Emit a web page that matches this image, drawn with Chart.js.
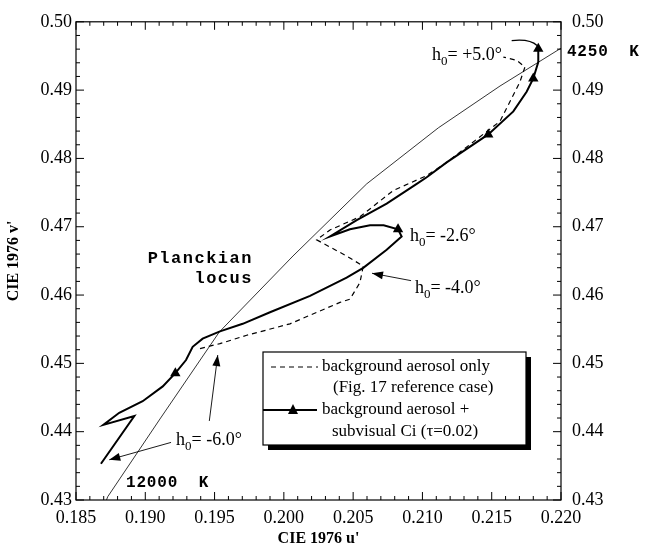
<!DOCTYPE html>
<html>
<head>
<meta charset="utf-8">
<script src="https://cdn.jsdelivr.net/npm/chart.js@4.4.1/dist/chart.umd.min.js"></script>
<style>
  html, body { margin: 0; padding: 0; background: #fff; }
  #wrap { width: 649px; height: 551px; }
</style>
</head>
<body>
<div id="wrap"><canvas id="myChart" width="649" height="551"></canvas></div>
<script>
// Planckian locus (thin line)
var locusU = [0.1872, 0.18729, 0.19106, 0.19534, 0.20066, 0.20598, 0.21115, 0.21560, 0.21993, 0.2205];
var locusV = [0.4300, 0.43048, 0.44186, 0.45459, 0.46572, 0.47628, 0.48448, 0.49060, 0.49605, 0.4966];

// background aerosol only (dashed)
var bgU = [0.19395, 0.19539, 0.19732, 0.20044, 0.20405, 0.20477, 0.20549, 0.20573, 0.20453, 0.20237,
           0.20333, 0.20549, 0.20790, 0.21031, 0.21175, 0.21560, 0.21632, 0.21704, 0.21740, 0.21680, 0.21584];
var bgV = [0.45217, 0.45289, 0.45411, 0.45579, 0.45892, 0.45940, 0.46182, 0.46423, 0.46572, 0.46808,
           0.46953, 0.47146, 0.47531, 0.47748, 0.47942, 0.48544, 0.48833, 0.49122, 0.49339, 0.49436, 0.49484];

// background aerosol + subvisual Ci (solid, triangles)
var ciU = [0.18680, 0.18921, 0.18697, 0.18812, 0.18981, 0.19126, 0.19217, 0.19294, 0.19342, 0.19414,
           0.19539, 0.19703, 0.19900, 0.20189, 0.20453, 0.20573, 0.20742, 0.20850, 0.20824, 0.20720,
           0.20622, 0.20477, 0.20333, 0.20526, 0.20742, 0.20959, 0.21031, 0.21175, 0.21475, 0.21656,
           0.21752, 0.21800, 0.21836, 0.21836];
var ciV = [0.43531, 0.44229, 0.44099, 0.44277, 0.44446, 0.44663, 0.44856, 0.45049, 0.45242, 0.45362,
           0.45469, 0.45579, 0.45748, 0.45989, 0.46254, 0.46399, 0.46663, 0.46857, 0.46963, 0.47021,
           0.47021, 0.46963, 0.46857, 0.47097, 0.47339, 0.47628, 0.47725, 0.47942, 0.48351, 0.48688,
           0.48977, 0.49171, 0.49411, 0.49605];
var ciMarkers = [6, 18, 28, 31, 33];

// ticks
var xMin = 0.185, xMax = 0.220, xStep = 0.001;
var yMin = 0.43, yMax = 0.50, yStep = 0.002;

// text labels [u, v]
var labelPlus5 = [0.21069, 0.49508];
var labelM26 = [0.20910, 0.46862];
var labelM40 = [0.20946, 0.46095];
var labelM60 = [0.19222, 0.43868];
var labelPlanck = [0.19777, 0.46529, 0.46240];
var label12000 = [0.18861, 0.43246];
var label4250 = [0.22043, 0.49552];

// annotation arrows [u0, v0, u1, v1]
var arrowM40 = [0.20918, 0.46211, 0.20636, 0.46319];
var arrowM60a = [0.19186, 0.43843, 0.18740, 0.43589];
var arrowM60b = [0.19462, 0.44157, 0.19523, 0.45122];
var curvePlus5 = [0.21644, 0.49725, 0.21776, 0.49754, 0.21827, 0.49653];

function pts(us, vs) {
  var out = [];
  for (var i = 0; i < us.length; i++) out.push({x: us[i], y: vs[i]});
  return out;
}

var serif = '"Liberation Serif", "Times New Roman", serif';
var mono = '"Liberation Mono", "Courier New", monospace';

function drawArrow(ctx, x0, y0, x1, y1) {
  ctx.beginPath();
  ctx.moveTo(x0, y0);
  ctx.lineTo(x1, y1);
  ctx.stroke();
  var a = Math.atan2(y1 - y0, x1 - x0);
  var L = 11, W = 4;
  ctx.beginPath();
  ctx.moveTo(x1, y1);
  ctx.lineTo(x1 - L * Math.cos(a) + W * Math.sin(a), y1 - L * Math.sin(a) - W * Math.cos(a));
  ctx.lineTo(x1 - L * Math.cos(a) - W * Math.sin(a), y1 - L * Math.sin(a) + W * Math.cos(a));
  ctx.closePath();
  ctx.fill();
}

function drawH(ctx, x, y, rest) {
  ctx.textAlign = 'left';
  ctx.textBaseline = 'middle';
  ctx.font = '18px ' + serif;
  ctx.fillText('h', x, y);
  var w = ctx.measureText('h').width;
  ctx.font = '13px ' + serif;
  ctx.fillText('0', x + w, y + 6);
  var w0 = ctx.measureText('0').width;
  ctx.font = '18px ' + serif;
  ctx.fillText('= ' + rest, x + w + w0, y);
}

var extras = {
  id: 'extras',
  afterDraw: function(chart) {
    var ctx = chart.ctx;
    var xs = chart.scales.x, ys = chart.scales.y;
    var ca = chart.chartArea;
    ctx.save();
    ctx.strokeStyle = '#000';
    ctx.fillStyle = '#000';

    // frame
    ctx.lineWidth = 1.2;
    ctx.strokeRect(ca.left, ca.top, ca.right - ca.left, ca.bottom - ca.top);

    // inward ticks
    ctx.lineWidth = 1;
    xs.ticks.forEach(function(t) {
      var px = xs.getPixelForValue(t.value);
      var len = Math.round(t.value * 1000) % 5 === 0 ? 8 : 4;
      ctx.beginPath();
      ctx.moveTo(px, ca.bottom); ctx.lineTo(px, ca.bottom - len);
      ctx.moveTo(px, ca.top); ctx.lineTo(px, ca.top + len);
      ctx.stroke();
    });
    ys.ticks.forEach(function(t) {
      var py = ys.getPixelForValue(t.value);
      var len = Math.round(t.value * 1000) % 10 === 0 ? 8 : 4;
      ctx.beginPath();
      ctx.moveTo(ca.left, py); ctx.lineTo(ca.left + len, py);
      ctx.moveTo(ca.right, py); ctx.lineTo(ca.right - len, py);
      ctx.stroke();
    });

    function P(u, v) { return [xs.getPixelForValue(u), ys.getPixelForValue(v)]; }

    // arrows
    ctx.lineWidth = 0.9;
    [arrowM40, arrowM60a, arrowM60b].forEach(function(a) {
      var p0 = P(a[0], a[1]), p1 = P(a[2], a[3]);
      drawArrow(ctx, p0[0], p0[1], p1[0], p1[1]);
    });
    var c0 = P(curvePlus5[0], curvePlus5[1]), c1 = P(curvePlus5[2], curvePlus5[3]), c2 = P(curvePlus5[4], curvePlus5[5]);
    ctx.lineWidth = 1.3;
    ctx.beginPath();
    ctx.moveTo(c0[0], c0[1]);
    ctx.quadraticCurveTo(c1[0], c1[1], c2[0], c2[1]);
    ctx.stroke();

    // h0 labels
    var p;
    p = P(labelPlus5[0], labelPlus5[1]); drawH(ctx, p[0], p[1], '+5.0°');
    p = P(labelM26[0], labelM26[1]); drawH(ctx, p[0], p[1], '-2.6°');
    p = P(labelM40[0], labelM40[1]); drawH(ctx, p[0], p[1], '-4.0°');
    p = P(labelM60[0], labelM60[1]); drawH(ctx, p[0], p[1], '-6.0°');

    // mono bold labels
    ctx.font = 'bold 17px ' + mono;
    ctx.letterSpacing = '1.5px';
    ctx.textAlign = 'right';
    ctx.textBaseline = 'middle';
    p = P(labelPlanck[0], labelPlanck[1]); ctx.fillText('Planckian', p[0], p[1]);
    p = P(labelPlanck[0], labelPlanck[2]); ctx.fillText('locus', p[0], p[1]);
    ctx.font = 'bold 16px ' + mono;
    ctx.letterSpacing = '0.8px';
    ctx.textAlign = 'left';
    p = P(label12000[0], label12000[1]); ctx.fillText('12000  K', p[0], p[1]);
    p = P(label4250[0], label4250[1]); ctx.fillText('4250  K', p[0], p[1]);
    ctx.letterSpacing = '0px';

    // legend box with shadow
    var bx = 263, by = 352, bw = 263, bh = 93;
    ctx.fillRect(bx + 5, by + 5, bw, bh);
    ctx.fillStyle = '#fff';
    ctx.fillRect(bx, by, bw, bh);
    ctx.fillStyle = '#000';
    ctx.lineWidth = 1.2;
    ctx.strokeRect(bx, by, bw, bh);

    ctx.lineWidth = 1.2;
    ctx.setLineDash([5, 4]);
    ctx.beginPath(); ctx.moveTo(bx + 8, by + 15); ctx.lineTo(bx + 55, by + 15); ctx.stroke();
    ctx.setLineDash([]);
    ctx.lineWidth = 2;
    ctx.beginPath(); ctx.moveTo(bx, by + 58); ctx.lineTo(bx + 54, by + 58); ctx.stroke();
    ctx.beginPath();
    ctx.moveTo(bx + 30, by + 52); ctx.lineTo(bx + 35, by + 62); ctx.lineTo(bx + 25, by + 62);
    ctx.closePath(); ctx.fill();

    ctx.font = '17px ' + serif;
    ctx.textAlign = 'left';
    ctx.textBaseline = 'middle';
    ctx.fillText('background aerosol only', bx + 59, by + 15);
    ctx.fillText('(Fig. 17 reference case)', bx + 70, by + 36);
    ctx.fillText('background aerosol +', bx + 59, by + 58);
    ctx.fillText('subvisual Ci (\u03c4=0.02)', bx + 69, by + 80);

    ctx.restore();
  }
};

var ctx = document.getElementById('myChart').getContext('2d');

var majorX = function(v) { return Math.round(v * 1000) % 5 === 0 ? v.toFixed(3) : ''; };
var majorY = function(v) { return Math.round(v * 1000) % 10 === 0 ? v.toFixed(2) : ''; };

var myChart = new Chart(ctx, {
  type: 'scatter',
  data: {
    datasets: [{
      label: 'Planckian locus',
      data: pts(locusU, locusV),
      showLine: true,
      borderColor: '#000',
      borderWidth: 0.8,
      pointRadius: 0
    }, {
      label: 'background aerosol only',
      data: pts(bgU, bgV),
      showLine: true,
      borderColor: '#000',
      borderWidth: 1.2,
      borderDash: [5, 4],
      pointRadius: 0
    }, {
      label: 'background aerosol + subvisual Ci',
      data: pts(ciU, ciV),
      showLine: true,
      borderColor: '#000',
      borderWidth: 2,
      pointStyle: 'triangle',
      backgroundColor: '#000',
      pointBorderWidth: 0,
      pointRadius: ciU.map(function(_, i) { return ciMarkers.indexOf(i) >= 0 ? 6 : 0; })
    }]
  },
  options: {
    responsive: false,
    animation: false,
    layout: { padding: { top: 16, left: 0, right: 0, bottom: 0 } },
    plugins: { legend: { display: false }, tooltip: { enabled: false } },
    scales: {
      x: {
        type: 'linear',
        position: 'bottom',
        min: xMin, max: xMax,
        grid: { display: false, drawTicks: false },
        border: { display: false },
        ticks: {
          stepSize: xStep, autoSkip: false, maxRotation: 0, padding: 7,
          color: '#000', font: { family: serif, size: 18 },
          callback: majorX
        },
        title: {
          display: true, text: 'CIE 1976 u\'', color: '#000',
          font: { family: serif, size: 16, weight: 'bold' },
          padding: { top: 0, bottom: 3 }
        },
        afterFit: function(s) { s.height = 51; }
      },
      y: {
        type: 'linear',
        position: 'left',
        min: yMin, max: yMax,
        grid: { display: false, drawTicks: false },
        border: { display: false },
        ticks: {
          stepSize: yStep, autoSkip: false, padding: 4,
          color: '#000', font: { family: serif, size: 18 },
          callback: majorY
        },
        title: {
          display: true, text: 'CIE 1976 v\'', color: '#000',
          font: { family: serif, size: 16, weight: 'bold' },
          padding: { top: 4, bottom: 0 }
        },
        afterFit: function(s) { s.width = 76; }
      },
      y2: {
        type: 'linear',
        position: 'right',
        min: yMin, max: yMax,
        grid: { display: false, drawTicks: false },
        border: { display: false },
        ticks: {
          stepSize: yStep, autoSkip: false, padding: 11,
          color: '#000', font: { family: serif, size: 18 },
          callback: majorY
        },
        afterFit: function(s) { s.width = 88; }
      }
    }
  },
  plugins: [extras]
});
</script>
</body>
</html>
